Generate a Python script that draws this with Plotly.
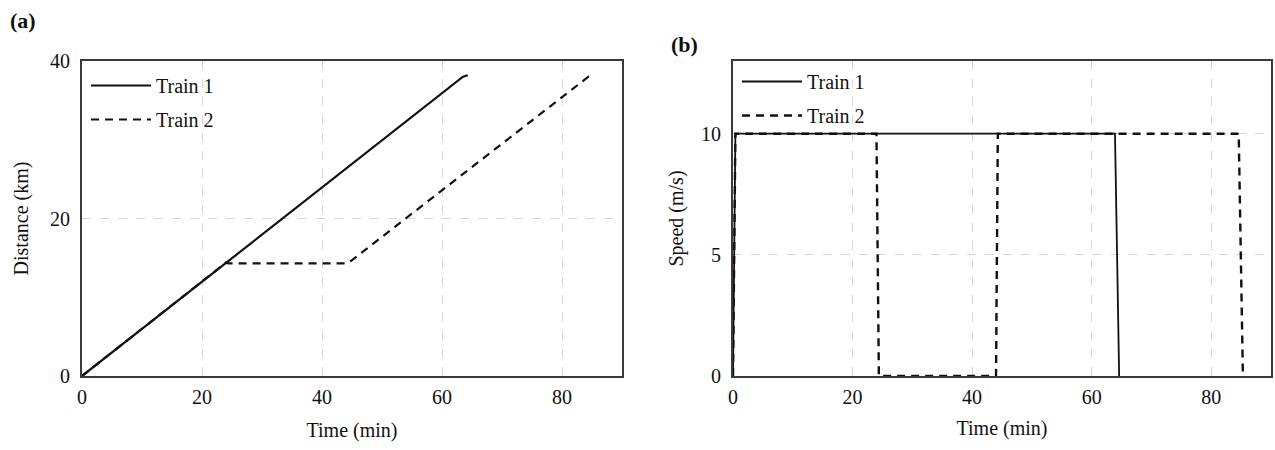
import plotly.graph_objects as go

# ---- data ----
t1_dist_time = [0, 63.5, 64.3]
t1_dist_km = [0, 38.0, 38.2]
t2_dist_time = [0, 24, 24.4, 44.0, 44.8, 84.4, 85.0]
t2_dist_km = [0, 14.4, 14.3, 14.3, 14.6, 38.0, 38.2]

t1_speed_time = [0, 0.4, 63.9, 64.6]
t1_speed_ms = [0, 10, 10, 0]
t2_speed_time = [0, 0.4, 24.0, 24.4, 44.0, 44.3, 84.6, 85.3]
t2_speed_ms = [0, 10, 10, 0, 0, 10, 10, 0]

x_ticks = [0, 20, 40, 60, 80]
ya_ticks = [0, 20, 40]
yb_ticks = [0, 5, 10]

FONT = "Liberation Serif, Times New Roman, serif"
W, H = 1275, 450

fig = go.Figure()
dash = "8px,6px"
fig.add_trace(go.Scatter(x=t2_dist_time, y=t2_dist_km, mode="lines", name="Train 2",
                         line=dict(color="#111", width=2.2, dash=dash), legendgroup="a2",
                         xaxis="x", yaxis="y", legend="legend", legendrank=2))
fig.add_trace(go.Scatter(x=t1_dist_time, y=t1_dist_km, mode="lines", name="Train 1",
                         line=dict(color="#111", width=2.2), legendgroup="a1",
                         xaxis="x", yaxis="y", legend="legend", legendrank=1))
fig.add_trace(go.Scatter(x=t2_speed_time, y=t2_speed_ms, mode="lines", name="Train 2",
                         line=dict(color="#111", width=2.4, dash=dash), legendgroup="b2",
                         xaxis="x2", yaxis="y2", legend="legend2", legendrank=2))
fig.add_trace(go.Scatter(x=t1_speed_time, y=t1_speed_ms, mode="lines", name="Train 1",
                         line=dict(color="#111", width=1.8), legendgroup="b1",
                         xaxis="x2", yaxis="y2", legend="legend2", legendrank=1))

ydom = [(H - 376) / H, (H - 61) / H]
axis_common = dict(showline=True, mirror=True, linecolor="#3a3a3a", linewidth=2.2,
                   showgrid=True, gridcolor="#d6d6d6", griddash="dash", gridwidth=1,
                   zeroline=False, ticks="", tickfont=dict(family=FONT, size=20, color="#111"),
                   automargin=False)
title_font = dict(family=FONT, size=20, color="#111")

fig.update_layout(
    width=W, height=H, margin=dict(l=0, r=0, t=0, b=0),
    paper_bgcolor="white", plot_bgcolor="white",
    font=dict(family=FONT, color="#111"),
    xaxis=dict(domain=[82 / W, 622 / W], range=[0, 90], tickvals=x_ticks,
               title=dict(text="Time (min)", font=title_font, standoff=16),
               anchor="y", ticklabelstandoff=2, **axis_common),
    yaxis=dict(domain=ydom, range=[0, 40], tickvals=ya_ticks,
               title=dict(text="Distance (km)", font=title_font, standoff=16),
               anchor="x", ticklabelstandoff=6, **axis_common),
    xaxis2=dict(domain=[733 / W, 1271 / W], range=[0, 90], tickvals=x_ticks,
                title=dict(text="Time (min)", font=title_font, standoff=14),
                anchor="y2", ticklabelstandoff=2, **axis_common),
    yaxis2=dict(domain=ydom, range=[0, 13], tickvals=yb_ticks,
                title=dict(text="Speed (m/s)", font=title_font, standoff=12),
                anchor="x2", ticklabelstandoff=6, **axis_common),
    legend=dict(x=86 / W, y=(H - 66) / H, xanchor="left", yanchor="top",
                bgcolor="rgba(255,255,255,0)", font=dict(family=FONT, size=20),
                tracegroupgap=5, traceorder="grouped", itemwidth=60),
    legend2=dict(x=737 / W, y=(H - 62) / H, xanchor="left", yanchor="top",
                 bgcolor="rgba(255,255,255,0)", font=dict(family=FONT, size=20),
                 tracegroupgap=5, traceorder="grouped", itemwidth=60),
    showlegend=True,
    annotations=[
        dict(text="<b>(a)</b>", x=8 / W, y=(H - 21) / H, xref="paper", yref="paper",
             xanchor="left", yanchor="middle", showarrow=False,
             font=dict(family=FONT, size=22, color="#111")),
        dict(text="<b>(b)</b>", x=669 / W, y=(H - 45) / H, xref="paper", yref="paper",
             xanchor="left", yanchor="middle", showarrow=False,
             font=dict(family=FONT, size=22, color="#111")),
    ],
)

fig.write_html("out.html")
